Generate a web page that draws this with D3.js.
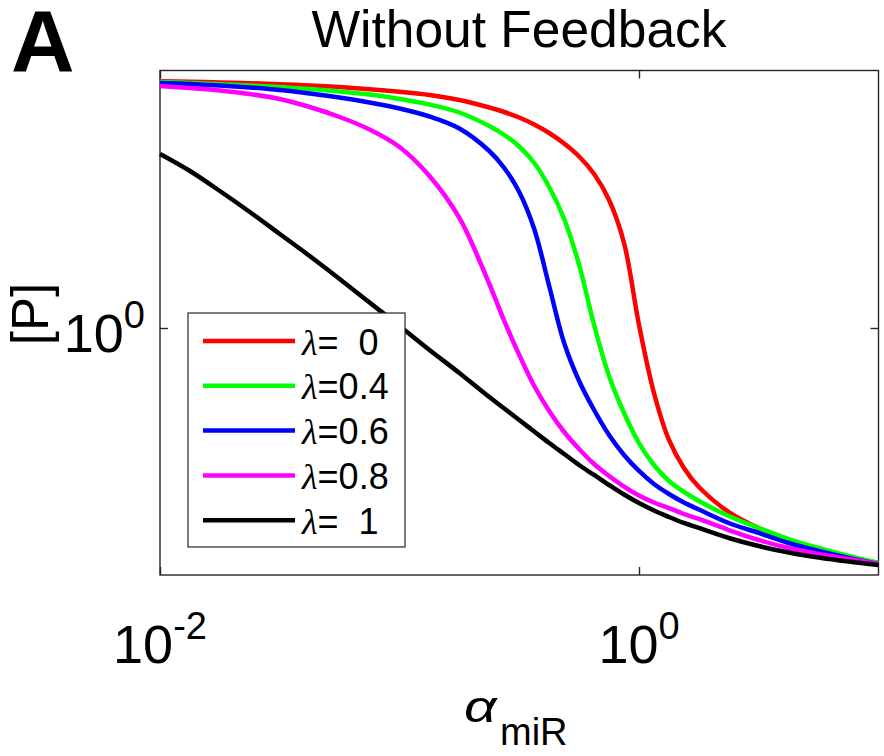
<!DOCTYPE html>
<html><head><meta charset="utf-8">
<script src="https://cdn.jsdelivr.net/npm/d3@7"></script>
<style>
body{margin:0;background:#fff}
text{font-family:"Liberation Sans",Arial,sans-serif;fill:#000}
</style>
</head><body><svg id="c" width="884" height="756" xmlns="http://www.w3.org/2000/svg"></svg>
<script>
// ---- data ----
const alphaValues = [0.01, 0.01334, 0.01778, 0.02371, 0.03162, 0.04217, 0.05623, 0.07499,
  0.1, 0.1334, 0.1778, 0.2371, 0.2738, 0.3162, 0.3652, 0.4217, 0.4870, 0.5623, 0.6494, 0.7499,
  0.8660, 1, 1.1548, 1.334, 1.5399, 1.778, 2.371, 3.162, 4.217, 5.623, 7.499, 10];
const lambdaLabels = ["  0", "0.4", "0.6", "0.8", "  1"];
const seriesColors = ["#ff0000", "#00ff00", "#0000ff", "#ff00ff", "#000000"];
const pLambda0  = [1.9427, 1.9401, 1.9369, 1.9328, 1.9276, 1.9208, 1.9126, 1.9018, 1.8885, 1.8723, 1.8473, 1.8104, 1.7886, 1.7623, 1.7294, 1.6903, 1.6432, 1.5867, 1.5137, 1.4113, 1.2571, 1.0081, 0.8394, 0.7397, 0.6860, 0.6518, 0.6093, 0.5837, 0.5651, 0.5508, 0.5398, 0.5312];
const pLambda04 = [1.9390, 1.9338, 1.9276, 1.9208, 1.9131, 1.9028, 1.8901, 1.8749, 1.8523, 1.8251, 1.7862, 1.7224, 1.6812, 1.6300, 1.5591, 1.4616, 1.3410, 1.1848, 1.0081, 0.8787, 0.7954, 0.7337, 0.6915, 0.6624, 0.6431, 0.6277, 0.6028, 0.5837, 0.5666, 0.5531, 0.5413, 0.5312];
const pLambda06 = [1.9338, 1.9286, 1.9208, 1.9105, 1.8977, 1.8799, 1.8598, 1.8349, 1.8055, 1.7671, 1.7109, 1.6103, 1.5383, 1.4421, 1.3053, 1.1197, 0.9604, 0.8670, 0.8019, 0.7497, 0.7104, 0.6805, 0.6571, 0.6396, 0.6251, 0.6135, 0.5916, 0.5759, 0.5606, 0.5486, 0.5384, 0.5297];
const pLambda08 = [1.9183, 1.9080, 1.8952, 1.8774, 1.8523, 1.8128, 1.7647, 1.7063, 1.6278, 1.5055, 1.3446, 1.1257, 1.0190, 0.9299, 0.8554, 0.7997, 0.7558, 0.7220, 0.6934, 0.6714, 0.6526, 0.6370, 0.6251, 0.6159, 0.6061, 0.5980, 0.5805, 0.5651, 0.5531, 0.5442, 0.5370, 0.5297];
const pLambda1  = [1.5974, 1.5259, 1.4459, 1.3665, 1.2879, 1.2138, 1.1410, 1.0710, 1.0054, 0.9425, 0.8859, 0.8304, 0.8051, 0.7806, 0.7568, 0.7337, 0.7123, 0.6915, 0.6732, 0.6553, 0.6387, 0.6243, 0.6118, 0.6012, 0.5916, 0.5837, 0.5682, 0.5560, 0.5464, 0.5391, 0.5333, 0.5284];
const xTickValues = [0.01, 1];
const xTickExponents = ["-2", "0"];
const yTickValues = [1];
const yTickExponents = ["0"];
const xDomain = [0.01, 10];
const yDomain = [0.5143, 2];

const seriesValues = [pLambda0, pLambda04, pLambda06, pLambda08, pLambda1];

// ---- layout ----
const svg = d3.select("#c");
const L = 160, R = 878.5, T = 70.5, B = 575;
const axisColor = "#262626";
const x = d3.scaleLog().domain(xDomain).range([L, R]);
const y = d3.scaleLog().domain(yDomain).range([B, T]);

svg.append("rect").attr("width", 884).attr("height", 756).attr("fill", "#fff");

svg.append("clipPath").attr("id", "clip").append("rect")
  .attr("x", L - 1).attr("y", T).attr("width", R - L + 2).attr("height", B - T);

// axes box
svg.append("rect").attr("x", L).attr("y", T).attr("width", R - L).attr("height", B - T)
  .attr("fill", "none").attr("stroke", axisColor).attr("stroke-width", 1.4);

// ticks (inside) via d3 axes
function styleAxis(g) {
  g.select(".domain").remove();
  g.selectAll(".tick line").attr("stroke", axisColor).attr("stroke-width", 1.4);
}
svg.append("g").attr("transform", `translate(0,${B})`)
  .call(d3.axisBottom(x).tickValues(xTickValues).tickSize(-8).tickFormat("")).call(styleAxis);
svg.append("g").attr("transform", `translate(0,${T})`)
  .call(d3.axisTop(x).tickValues(xTickValues).tickSize(-8).tickFormat("")).call(styleAxis);
svg.append("g").attr("transform", `translate(${L},0)`)
  .call(d3.axisLeft(y).tickValues(yTickValues).tickSize(-8).tickFormat("")).call(styleAxis);
svg.append("g").attr("transform", `translate(${R},0)`)
  .call(d3.axisRight(y).tickValues(yTickValues).tickSize(-8).tickFormat("")).call(styleAxis);

// tick labels
xTickValues.forEach((v, i) => {
  const t = svg.append("text").attr("x", x(v)).attr("y", 663)
    .attr("text-anchor", "middle").attr("font-size", 54).attr("fill", "#262626");
  t.append("tspan").text("10");
  t.append("tspan").attr("dy", -24).attr("font-size", 38).text(xTickExponents[i]);
});
yTickValues.forEach((v, i) => {
  const t = svg.append("text").attr("x", 145).attr("y", y(v) + 24)
    .attr("text-anchor", "end").attr("font-size", 54).attr("fill", "#262626");
  t.append("tspan").text("10");
  t.append("tspan").attr("dy", -24).attr("font-size", 38).text(yTickExponents[i]);
});

// lines
const line = d3.line()
  .x((d, i) => x(alphaValues[i]))
  .y(d => y(d))
  .curve(d3.curveCatmullRom.alpha(0.5));
const lines = svg.append("g").attr("clip-path", "url(#clip)");
seriesValues.forEach((vals, i) => {
  lines.append("path").attr("d", line(vals))
    .attr("fill", "none").attr("stroke", seriesColors[i])
    .attr("stroke-width", 4.5).attr("stroke-linejoin", "round");
});

// legend
const lg = svg.append("g");
lg.append("rect").attr("x", 188).attr("y", 313).attr("width", 217).attr("height", 234)
  .attr("fill", "#fff").attr("stroke", axisColor).attr("stroke-width", 1.2);
lambdaLabels.forEach((lab, i) => {
  const cy = 341 + i * 44.8;
  lg.append("line").attr("x1", 203).attr("x2", 295).attr("y1", cy).attr("y2", cy)
    .attr("stroke", seriesColors[i]).attr("stroke-width", 4.5);
  const t = lg.append("text").attr("x", 302).attr("y", cy + 13.5).attr("font-size", 36)
    .style("white-space", "pre");
  t.append("tspan").attr("font-family", "Liberation Serif").attr("font-style", "italic").text("\u03bb");
  t.append("tspan").text("=" + lab);
});

// title, labels
svg.append("text").attr("x", 519).attr("y", 47).attr("text-anchor", "middle")
  .attr("font-size", 51.5).text("Without Feedback");
svg.append("text").attr("x", 11).attr("y", 71).attr("font-size", 88)
  .attr("font-weight", "bold").text("A");
svg.append("text").attr("transform", "translate(48,314) rotate(-90)")
  .attr("text-anchor", "middle").attr("font-size", 51).attr("fill", "#262626").text("[P]");
svg.append("text").attr("transform", "translate(464,722) scale(1.3,1)").attr("fill", "#262626")
  .attr("font-family", "DejaVu Serif").attr("font-style", "italic")
  .attr("font-size", 44).text("\u03b1");
svg.append("text").attr("x", 500).attr("y", 745).attr("fill", "#262626")
  .attr("font-size", 38).text("miR");
</script>
</body></html>
